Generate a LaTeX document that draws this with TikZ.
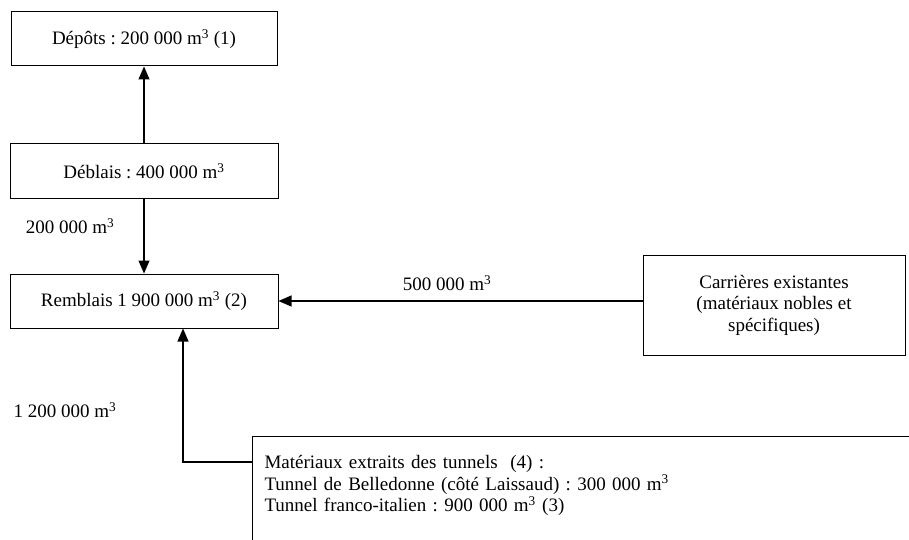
\documentclass[tikz,border=0pt]{standalone}
\usepackage{fontspec}
\setmainfont{Liberation Serif}
\usetikzlibrary{arrows.meta}

\begin{document}
\frenchspacing
\begin{tikzpicture}[x=1pt, y=-1pt, font=\fontsize{19}{21.5}\selectfont,
	boite/.style={draw, line width=1pt, inner sep=0pt},
	fleche/.style={line width=1.1pt, -{Triangle[length=13pt, width=11pt]}}]
	\useasboundingbox (0,0) rectangle (909,540);
	\clip (0,0) rectangle (909,540);
	\coordinate (D) at (144,39);
	\coordinate (B) at (144,171);
	\coordinate (R) at (144,301);
	\coordinate (C) at (774,305);
	\coordinate (T) at (252,436);
	\coordinate (K) at (183,462);
	\node[boite, minimum width=266pt, minimum height=54pt] (depots) at (D) {Dépôts : 200 000 m\textsuperscript{3} (1)};
	\node[boite, minimum width=268pt, minimum height=54pt] (deblais) at (B) {Déblais : 400 000 m\textsuperscript{3}};
	\node[boite, minimum width=268pt, minimum height=54pt] (remblais) at (R) {Remblais 1 900 000 m\textsuperscript{3} (2)};
	\node[boite, minimum width=262pt, minimum height=100pt, align=center] (carrieres) at (C) {Carrières existantes\\(matériaux nobles et\\spécifiques)};
	\node[boite, anchor=north west, text width=680pt, align=left, inner xsep=12pt, inner ysep=19pt] (tunnels) at (T) {Matériaux extraits des tunnels~ (4) :\\Tunnel de Belledonne (côté Laissaud) : 300 000 m\textsuperscript{3}\\Tunnel franco-italien : 900 000 m\textsuperscript{3} (3)\rule[-60pt]{0pt}{0pt}};
	\draw[fleche] (deblais.north) -- (depots.south);
	\draw[fleche] (deblais.south) -- (remblais.north);
	\draw[fleche] (carrieres.west |- remblais.east) -- (remblais.east);
	\draw[fleche] (K -| tunnels.west) -- (K) -- (K |- remblais.south);
	\node (v200) at (70,226) {200 000 m\textsuperscript{3}};
	\node (v500) at (447,283) {500 000 m\textsuperscript{3}};
	\node (v1200) at (65,410) {1 200 000 m\textsuperscript{3}};
\end{tikzpicture}
\end{document}
